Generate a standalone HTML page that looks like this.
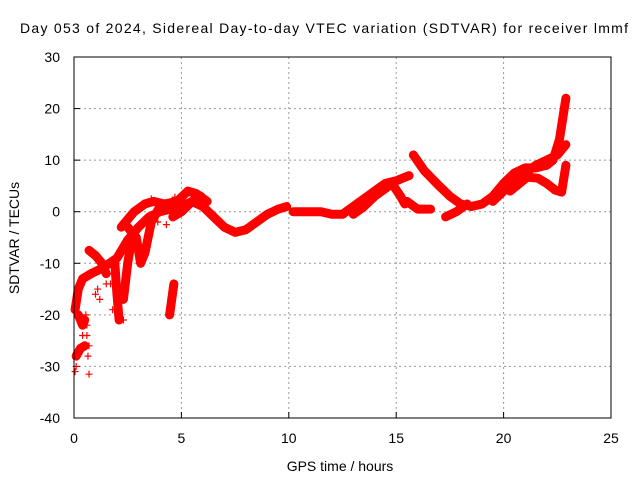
<!DOCTYPE html>
<html><head><meta charset="utf-8"><style>
body{margin:0;background:#fff;}
svg{display:block;font-family:"Liberation Sans",sans-serif;}
</style></head><body>
<svg id="chart" width="640" height="480">
<text x="20" y="33" font-size="14" textLength="608" lengthAdjust="spacing">Day 053 of 2024, Sidereal Day-to-day VTEC variation (SDTVAR) for receiver lmmf</text>
<text x="340" y="471" font-size="14" text-anchor="middle">GPS time / hours</text>
<text transform="translate(19,238) rotate(-90)" font-size="14" text-anchor="middle">SDTVAR / TECUs</text>
<g id="grid"></g><g id="axes"></g><g id="marks"></g>
<rect x="74" y="57" width="537" height="361" fill="none" stroke="#000" stroke-width="1"/>
</svg>
<script>
const xTicks=[0,5,10,15,20,25];
const yTicks=[-40,-30,-20,-10,0,10,20,30];
const tracks=[
 [[0.05,-19],[0.2,-15],[0.4,-13],[0.8,-12],[1.3,-11],[2.0,-9],[2.5,-5.5],[3,-3],[3.5,-1],[4,0],[4.5,0.5],[5,1],[5.5,2],[6,1],[6.5,-1],[7,-3],[7.5,-4],[8,-3.5],[8.5,-2],[9,-0.5],[9.5,0.5],[9.9,1]],
 [[2.2,-3],[2.8,0],[3.3,1.5],[3.7,2],[4.2,1.5],[4.8,2],[5.3,4],[5.7,3.5],[6.2,2]],
 [[2.5,-3],[2.9,-5],[3.1,-10],[3.3,-8],[3.6,-2],[4,1]],
 [[1.9,-10],[2.0,-16],[2.1,-21]],
 [[2.3,-17],[2.5,-10],[2.7,-5]],
 [[0.7,-7.5],[1.0,-8.5],[1.3,-10],[1.5,-12]],
 [[0.1,-28],[0.3,-26.5],[0.5,-26]],
 [[0.2,-20],[0.4,-22],[0.5,-21]],
 [[4.45,-20],[4.55,-17],[4.65,-14]],
 [[4.6,-1],[5,0],[5.5,2],[5.9,3]],
 [[10.2,0],[10.7,0],[11.5,0],[12,-0.5],[12.5,-0.5],[13,1],[13.5,2.5],[14,4],[14.5,5.5],[15,6],[15.6,7]],
 [[13,-0.5],[13.5,1],[14,3],[14.5,4.5],[14.8,5.5],[15.2,3],[15.4,1.5]],
 [[15.5,2],[16,0.5],[16.6,0.5]],
 [[15.8,11],[16.3,8],[17,5],[17.5,3],[18,1.5],[18.5,1],[19,1.5],[19.5,3],[20,5.5],[20.5,7.5],[21,8.5],[21.5,8.5],[22,9],[22.3,10],[22.6,14],[22.9,22]],
 [[17.3,-1],[17.8,0],[18.3,1.5]],
 [[19.5,2],[20,4],[20.5,6],[21,7.5],[21.5,9],[22,10],[22.5,11],[22.9,13]],
 [[20.3,4],[21.1,6.7],[21.6,6.5],[22,5.5],[22.4,4.2],[22.7,3.8],[22.9,9]]
];
const scatter=[[0.05,-31],[0.1,-30],[0.6,-24],[0.65,-28],[0.7,-31.5],[0.55,-20],[1.1,-15],[1.2,-17],[1.0,-16],[3.6,2.5],[4.7,2.8],[1.7,-14],[1.8,-19],[0.7,-26],[0.6,-22],[1.5,-14],[1.6,-12],[3.9,-2],[4.3,-2.5],[2.3,-21],[0.4,-24]];
const X=h=>74+h*537/25, Y=v=>57+(30-v)*361/70;
const ns="http://www.w3.org/2000/svg";
const g=document.getElementById('grid'),ax=document.getElementById('axes'),mk=document.getElementById('marks');
function el(t,a,p){const e=document.createElementNS(ns,t);for(const k in a)e.setAttribute(k,a[k]);p.appendChild(e);return e;}
xTicks.forEach(t=>{
 if(t>0&&t<25){const l=el('line',{x1:X(t),x2:X(t),y1:57,y2:418,stroke:'#999','stroke-dasharray':'2,3'},g);
 
 }
 el('line',{x1:X(t),x2:X(t),y1:418,y2:412,stroke:'#000'},ax);
 const tx=el('text',{x:X(t),y:443,'font-size':14,'text-anchor':'middle'},ax);tx.textContent=t;
 
 
});
yTicks.forEach(t=>{
 if(t>-40&&t<30){const l=el('line',{x1:74,x2:611,y1:Y(t),y2:Y(t),stroke:'#999','stroke-dasharray':'2,3'},g);
 
 }
 el('line',{x1:74,x2:80,y1:Y(t),y2:Y(t),stroke:'#000'},ax);
 const tx=el('text',{x:60,y:Y(t)+5,'font-size':14,'text-anchor':'end'},ax);tx.textContent=t;
 
 
});
tracks.forEach(tr=>{
 const p=el('polyline',{points:tr.map(d=>X(d[0])+','+Y(d[1])).join(' '),fill:'none',stroke:'#f00','stroke-width':9,'stroke-linejoin':'round','stroke-linecap':'round'},mk);
 
 
});
scatter.forEach(d=>{
 const x=X(d[0]),y=Y(d[1]);
 const p=el('path',{d:`M${x-3.5},${y}H${x+3.5}M${x},${y-3.5}V${y+3.5}`,stroke:'#f00','stroke-width':1.2},mk);
 
 
});
</script>
</body></html>
